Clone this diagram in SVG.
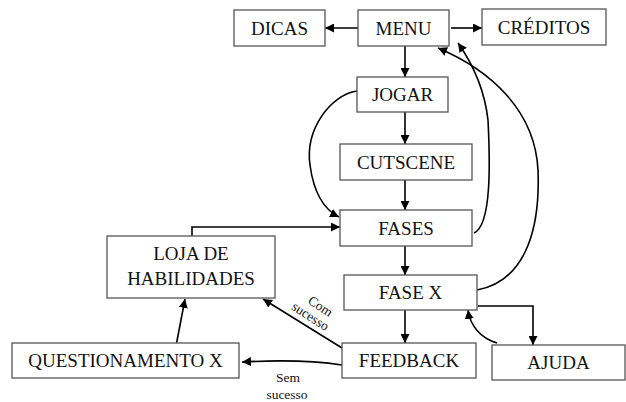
<svg xmlns="http://www.w3.org/2000/svg" width="626" height="402" viewBox="0 0 626 402">
<defs>
<marker id="ah" viewBox="0 0 10 10" refX="10" refY="5" markerWidth="9" markerHeight="9" markerUnits="userSpaceOnUse" orient="auto">
<path d="M0,0 L10,5 L0,10 z" fill="#000"/>
</marker>
</defs>
<style>
.box{fill:#fff;stroke:#555;stroke-width:1.3}
.t{font-family:"Liberation Serif",serif;font-size:19px;fill:#111;text-anchor:middle}
.s{font-family:"Liberation Serif",serif;font-size:13.5px;fill:#111;text-anchor:middle}
.c{fill:none;stroke:#000;stroke-width:1.6;marker-end:url(#ah)}
</style>
<rect width="626" height="402" fill="#fff"/>
<g id="connectors">
<path class="c" d="M358,28 L325,28"/>
<path class="c" d="M451,28 L482,28"/>
<path class="c" d="M405,46 L405,77"/>
<path class="c" d="M405,112 L405,144"/>
<path class="c" d="M405,180 L405,210"/>
<path class="c" d="M405,246 L405,275"/>
<path class="c" d="M405,310 L405,343"/>
<path class="c" d="M357,91 C330,95 305,130 310,165 C314,195 325,210 339,217"/>
<path class="c" d="M192,236 L192,227 L340,227"/>
<path class="c" d="M474,233 C492,225 490,160 488,120 C484,85 470,60 458,43"/>
<path class="c" d="M477,290 C530,280 540,220 538,170 C535,110 490,70 438,48"/>
<path class="c" d="M478,306 L533,306 L533,345"/>
<path class="c" d="M497,343 C480,338 470,325 468,310"/>
<path class="c" d="M342,348 L263,299"/>
<path class="c" d="M342,365 C310,360 280,360 242,362"/>
<path class="c" d="M176,346 L185,299"/>
</g>
<g id="dicas"><rect class="box" x="234" y="10" width="91" height="36"/><text class="t" x="279.5" y="34.5">DICAS</text></g>
<g id="menu"><rect class="box" x="358" y="10" width="91" height="36"/><text class="t" x="403.5" y="34.5">MENU</text></g>
<g id="creditos"><rect class="box" x="482" y="9" width="124" height="36"/><text class="t" x="544" y="33.5">CRÉDITOS</text></g>
<g id="jogar"><rect class="box" x="357" y="77" width="91" height="35"/><text class="t" x="402.5" y="101">JOGAR</text></g>
<g id="cutscene"><rect class="box" x="340" y="144" width="132" height="36"/><text class="t" x="406" y="168.5">CUTSCENE</text></g>
<g id="fases"><rect class="box" x="340" y="210" width="132" height="36"/><text class="t" x="406" y="234.5">FASES</text></g>
<g id="fasex"><rect class="box" x="344" y="275" width="133" height="35"/><text class="t" x="410.5" y="299">FASE X</text></g>
<g id="feedback"><rect class="box" x="342" y="343" width="134" height="35"/><text class="t" x="409" y="367">FEEDBACK</text></g>
<g id="ajuda"><rect class="box" x="492" y="345" width="133" height="35"/><text class="t" x="558.5" y="369">AJUDA</text></g>
<g id="loja"><rect class="box" x="107" y="236" width="168" height="62"/><text class="t" x="191" y="260">LOJA DE</text><text class="t" x="191" y="285">HABILIDADES</text></g>
<g id="questionamento"><rect class="box" x="12" y="343" width="227" height="35"/><text class="t" x="125.5" y="367">QUESTIONAMENTO X</text></g>
<g id="labels">
<text class="s" transform="translate(318,310) rotate(33)" x="0" y="0">Com</text>
<text class="s" transform="translate(308,320) rotate(33)" x="0" y="0">sucesso</text>
<text class="s" x="288" y="382">Sem</text>
<text class="s" x="287" y="399">sucesso</text>
</g>
</svg>
